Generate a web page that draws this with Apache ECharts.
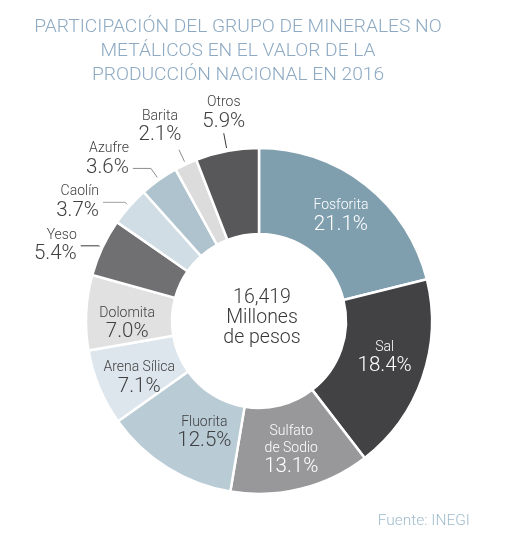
<!DOCTYPE html>
<html lang="es" style="height: 100%">
<head>
  <meta charset="UTF-8">
</head>
<body style="height: 100%; margin: 0; background: #fff">
  <div id="container" style="width: 508px; height: 545px"></div>
  <script src="https://cdn.jsdelivr.net/npm/echarts@6/dist/echarts.min.js"></script>
  <script>
    // Datos (porcentaje del valor de la produccion)
    var names = ['Fosforita', 'Sal', 'Sulfato\nde Sodio', 'Fluorita', 'Arena Sílica', 'Dolomita',
      'Yeso', 'Caolín', 'Azufre', 'Barita', 'Otros'];
    var values = [21.1, 18.4, 13.1, 12.5, 7.1, 7.0, 5.4, 3.7, 3.6, 2.1, 5.9];
    var colors = ['#7f9eae', '#424244', '#98989b', '#b9cbd5', '#dde6ec', '#e1e1e2',
      '#707073', '#d0dde5', '#afc3ce', '#dcdcdd', '#58585b'];
    var insideTextColors = ['#fff', '#fff', '#fff', '#404042', '#404042', '#404042'];
    var centerText = ['16,419', 'Millones', 'de pesos'];
    var titleText = 'PARTICIPACIÓN DEL GRUPO DE MINERALES NO\nMETÁLICOS EN EL VALOR DE LA\nPRODUCCIÓN NACIONAL EN 2016';
    var sourceText = 'Fuente: INEGI';

    // ajustes de estilo de las etiquetas (no son datos)
    var outsideStyle = {
      'Yeso':   { length: 4,  length2: 18, dx: -4, dy: 0,  top: false, line: '#3a3a3c' },
      'Caolín': { length: 6,  length2: 22, dx: -4, dy: 0,  top: false, line: '#a0a0a2' },
      'Azufre': { length: 14, length2: 18, dx: -4, dy: -9, top: false, line: '#8c8c8e' },
      'Barita': { length: 16, length2: 0,  dx: -19, dy: -4, top: true, line: '#8c8c8e' },
      'Otros':  { length: 18, length2: 0,  dx: 0,  dy: -1, top: true,  line: '#3a3a3c' }
    };
    var insideShift = {
      'Sal': [0, -7], 'Fluorita': [16, -1], 'Arena Sílica': [3, 6], 'Dolomita': [1, 9]
    };

    var FONT = 'Roboto, "Liberation Sans", sans-serif';

    var dom = document.getElementById('container');
    var myChart = echarts.init(dom, null, { renderer: 'canvas' });

    var data = names.map(function (n, i) {
      var o = outsideStyle[n];
      return {
        name: n,
        value: values[i],
        itemStyle: { color: colors[i] },
        label: o
          ? { position: 'outside', color: '#404042' }
          : { position: 'inside', color: insideTextColors[i] },
        labelLine: {
          show: !!o,
          length: o ? o.length : 0,
          length2: o ? o.length2 : 0,
          lineStyle: { color: o ? o.line : '#888', width: 1 }
        }
      };
    });

    var option = {
      backgroundColor: '#fff',
      animation: false,
      title: {
        text: titleText,
        left: 233,
        top: 10,
        textAlign: 'center',
        textStyle: {
          fontFamily: FONT,
          fontWeight: 300,
          fontSize: 19.2,
          lineHeight: 24,
          color: '#8eaac3'
        }
      },
      graphic: [
        {
          type: 'text',
          x: 262,
          y: 318,
          style: {
            text: centerText.join('\n'),
            align: 'center',
            verticalAlign: 'middle',
            fontFamily: FONT,
            fontWeight: 300,
            fontSize: 19.5,
            lineHeight: 20,
            fill: '#38383a'
          }
        },
        {
          type: 'text',
          x: 470,
          y: 521,
          style: {
            text: sourceText,
            align: 'right',
            verticalAlign: 'middle',
            fontFamily: FONT,
            fontWeight: 300,
            fontSize: 15.5,
            fill: '#9fbccc'
          }
        }
      ],
      series: [
        {
          type: 'pie',
          center: [259, 321],
          radius: [87, 173],
          startAngle: 90,
          clockwise: true,
          avoidLabelOverlap: false,
          silent: true,
          itemStyle: { borderColor: '#fff', borderWidth: 2.5 },
          label: {
            fontFamily: FONT,
            formatter: function (p) {
              return '{n|' + p.name + '}\n{p|' + p.value.toFixed(1) + '%}';
            },
            rich: {
              n: { fontFamily: FONT, fontWeight: 300, fontSize: 14, lineHeight: 17 },
              p: { fontFamily: FONT, fontWeight: 300, fontSize: 20.5, lineHeight: 21 }
            }
          },
          labelLayout: function (p) {
            var name = names[p.dataIndex];
            var o = outsideStyle[name];
            if (!o) {
              var s = insideShift[name] || [0, 0];
              return { dx: s[0], dy: s[1] };
            }
            var pts = p.labelLinePoints;
            if (!pts) return {};
            // separa un poco la linea del borde del anillo
            var a = pts[0], b = pts[1];
            var len = Math.sqrt((b[0] - a[0]) * (b[0] - a[0]) + (b[1] - a[1]) * (b[1] - a[1])) || 1;
            var gap = Math.min(3, len - 1);
            var start = [a[0] + (b[0] - a[0]) * gap / len, a[1] + (b[1] - a[1]) * gap / len];
            var line = [start, pts[1], pts[2]];
            var end = pts[pts.length - 1];
            if (o.top) {
              return {
                x: end[0] + o.dx, y: end[1] + o.dy,
                align: 'center', verticalAlign: 'bottom', labelLinePoints: line
              };
            }
            return {
              x: end[0] + o.dx, y: end[1] + o.dy,
              align: 'right', verticalAlign: 'middle', labelLinePoints: line
            };
          },
          data: data
        }
      ]
    };

    myChart.setOption(option);
    window.addEventListener('resize', myChart.resize);
  </script>
</body>
</html>
